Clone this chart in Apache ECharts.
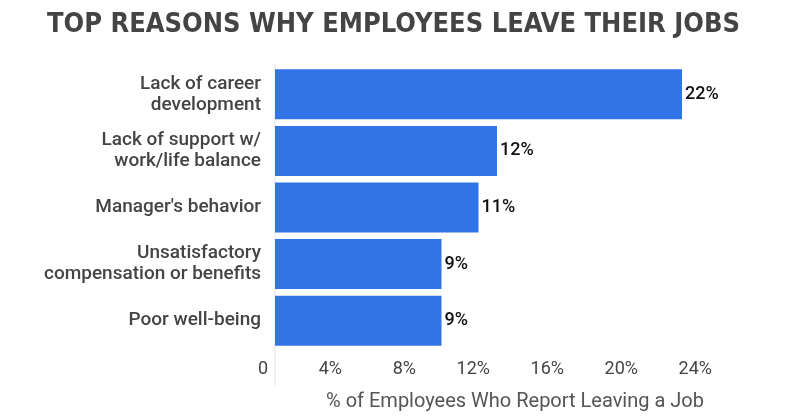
<!DOCTYPE html>
<html>
<head>
<meta charset="utf-8">
<script src="https://cdn.jsdelivr.net/npm/echarts@6/dist/echarts.min.js"></script>
<style>
  html, body { margin: 0; padding: 0; background: #fff; }
  #chart { width: 800px; height: 419px; }
</style>
</head>
<body>
<div id="chart"></div>
<script>
// data
var reasons = [
  'Lack of career\ndevelopment',
  'Lack of support w/\nwork/life balance',
  "Manager's behavior",
  'Unsatisfactory\ncompensation or benefits',
  'Poor well-being'
];
var shares = [22, 12, 11, 9, 9];
var axisTicks = [0, 4, 8, 12, 16, 20, 24];

var chart = echarts.init(document.getElementById('chart'));

var option = {
  backgroundColor: '#fff',
  animation: false,
  title: {
    text: 'TOP REASONS WHY EMPLOYEES LEAVE THEIR JOBS',
    left: 42,
    top: 6,
    textStyle: {
      fontFamily: 'DejaVu Sans Condensed',
      fontWeight: 'bold',
      fontSize: 27,
      color: '#444'
    }
  },
  grid: { left: 275, right: 81, top: 66, bottom: 70 },
  xAxis: {
    type: 'value',
    min: axisTicks[0],
    max: axisTicks[axisTicks.length - 1],
    interval: 4,
    axisLine: { show: false },
    axisTick: { show: false },
    splitLine: { show: false },
    axisLabel: {
      margin: 11,
      align: 'right',
      padding: [0, 7, 0, 0],
      fontFamily: 'Roboto',
      fontSize: 18,
      color: '#444',
      formatter: function (v) { return v === 0 ? '0' : v + '%'; }
    },
    name: '% of Employees Who Report Leaving a Job',
    nameLocation: 'middle',
    nameGap: 43,
    nameTextStyle: {
      fontFamily: 'Roboto',
      fontSize: 20,
      color: '#555',
      padding: [0, 0, 0, 36]
    }
  },
  yAxis: {
    type: 'category',
    inverse: true,
    data: reasons,
    axisLine: { show: false },
    axisTick: { show: false },
    axisLabel: {
      margin: 14,
      fontFamily: 'Roboto',
      fontWeight: 500,
      fontSize: 19,
      lineHeight: 21,
      color: '#444'
    }
  },
  series: [{
    type: 'bar',
    data: shares,
    barWidth: 50,
    itemStyle: { color: '#3274e8' },
    label: {
      show: true,
      position: 'right',
      distance: 3,
      fontFamily: 'Roboto',
      fontWeight: 500,
      fontSize: 18,
      color: '#111',
      formatter: '{c}%'
    }
  }]
};

chart.setOption(option);

// thin light vertical line at zero, running past the bars down to the labels
var x0 = chart.convertToPixel({ xAxisIndex: 0 }, 0);
chart.setOption({
  graphic: [{
    type: 'line',
    shape: { x1: x0, y1: 64, x2: x0, y2: 386 },
    style: { stroke: '#e4e4e4', lineWidth: 1 },
    z: -1
  }]
});
</script>
</body>
</html>
